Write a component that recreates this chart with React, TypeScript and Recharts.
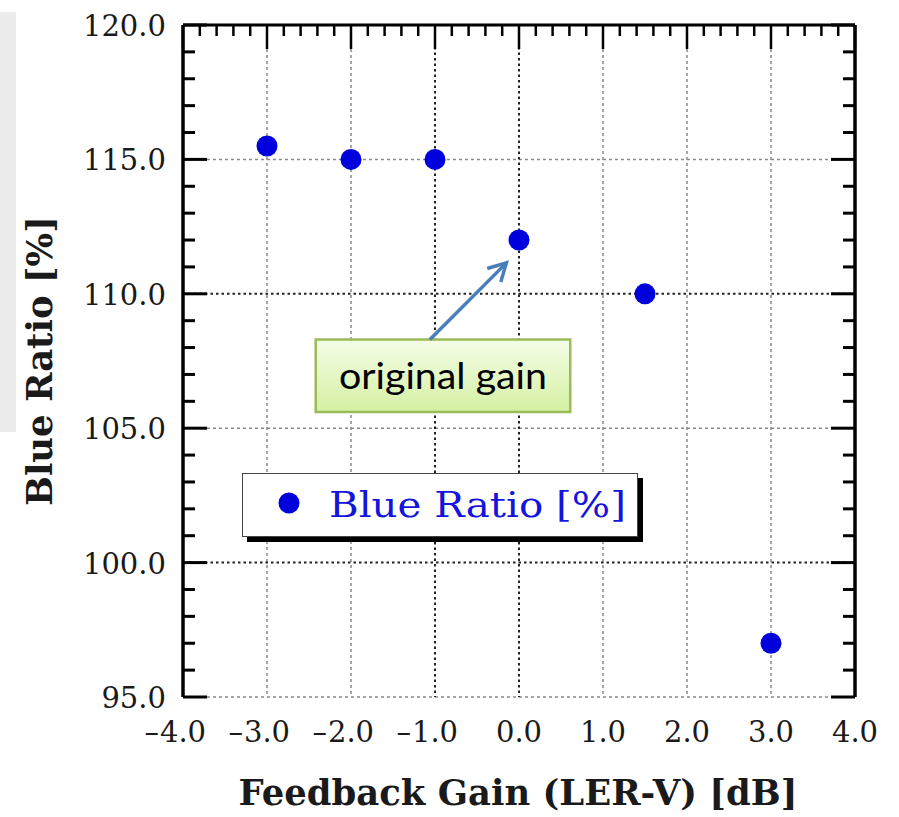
import React from 'react';
import {
  ScatterChart,
  Scatter,
  XAxis,
  YAxis,
  CartesianGrid,
  ReferenceArea,
  ReferenceLine,
  Legend,
} from 'recharts';

// measured values
const gainDb = [-3.0, -2.0, -1.0, 0.0, 1.5, 3.0];
const blueRatio = [115.5, 115.0, 115.0, 112.0, 110.0, 97.0];

// axis ticks
const xTicks = [-4, -3, -2, -1, 0, 1, 2, 3, 4];
const xMinorTicks = Array.from({ length: 41 }, (_, i) => Math.round((-4 + i * 0.2) * 10) / 10);
const yMinorTicks = Array.from({ length: 26 }, (_, i) => 95 + i);

// grid lines (some drawn darker in the original)
const lightGridX = [-3, -2, 1, 2, 3];
const darkGridX = [-1, 0];
const lightGridY = [95, 105, 115];
const darkGridY = [100, 110];

const seriesName = 'Blue Ratio [%]';
const xLabel = 'Feedback Gain (LER-V) [dB]';
const yLabel = 'Blue Ratio [%]';
const noteText = 'original gain';

// callout placement, in data units
const noteBox = { x1: -2.42, x2: 0.61, y1: 105.6, y2: 108.3 };
const noteArrow = [
  { x: -1.06, y: 108.3 },
  { x: -0.15, y: 111.15 },
];

const SERIF = '"DejaVu Serif", "Liberation Serif", serif';
const W = 899;
const H = 817;

const data = gainDb.map((g, i) => ({ gain: g, ratio: blueRatio[i] }));

const isWhole = (v: number) => Math.abs(v - Math.round(v)) < 1e-6;

function LeftTick({ x, y, payload }: any) {
  const v = payload.value as number;
  const major = v % 5 === 0;
  return (
    <g>
      <line x1={x} y1={y} x2={x + (major ? 24 : 12)} y2={y} stroke="#000" strokeWidth={3} />
      {major && (
        <text x={x - 17} y={y} dy={11} textAnchor="end" fontFamily={SERIF} fontSize={29} fill="#1a1a1a">
          {v.toFixed(1)}
        </text>
      )}
    </g>
  );
}

function RightTick({ x, y, payload }: any) {
  const v = payload.value as number;
  const major = v % 5 === 0;
  return <line x1={x} y1={y} x2={x - (major ? 24 : 12)} y2={y} stroke="#000" strokeWidth={3} />;
}

function TopTick({ x, y, payload }: any) {
  const v = payload.value as number;
  const major = isWhole(v);
  return <line x1={x} y1={y} x2={x} y2={y + (major ? 24 : 11)} stroke="#000" strokeWidth={2.5} />;
}

function BottomTick({ x, y, payload }: any) {
  const v = payload.value as number;
  return (
    <g fontFamily={SERIF} fontSize={29} fill="#1a1a1a">
      <text x={x} y={y + 45} textAnchor="middle">
        {Math.abs(v).toFixed(1)}
      </text>
      {v < 0 && (
        <text x={x - 24} y={y + 45} textAnchor="end">
          –
        </text>
      )}
    </g>
  );
}

function XLabel({ viewBox }: any) {
  const { x, y, width } = viewBox;
  return (
    <text
      x={x + width / 2 - 1}
      y={y + 108}
      textAnchor="middle"
      fontFamily={SERIF}
      fontWeight="bold"
      fontSize={35}
      fill="#1a1a1a"
      textLength={559}
      lengthAdjust="spacingAndGlyphs"
    >
      {xLabel}
    </text>
  );
}

function YLabel({ viewBox }: any) {
  const { y, height } = viewBox;
  return (
    <text
      transform={`translate(52, ${y + height / 2}) rotate(-90)`}
      textAnchor="middle"
      fontFamily={SERIF}
      fontWeight="bold"
      fontSize={35}
      fill="#1a1a1a"
      textLength={290}
      lengthAdjust="spacingAndGlyphs"
    >
      {yLabel}
    </text>
  );
}

function NoteLabel({ viewBox }: any) {
  const { x, y, width, height } = viewBox;
  return (
    <text
      x={x + width / 2}
      y={y + height / 2 + 13}
      textAnchor="middle"
      fontFamily="Lato, 'Open Sans', sans-serif"
      fontSize={36}
      fill="#000"
      textLength={208}
      lengthAdjust="spacingAndGlyphs"
    >
      {noteText}
    </text>
  );
}

function Arrow({ x1, y1, x2, y2 }: any) {
  const ang = Math.atan2(y2 - y1, x2 - x1);
  const len = 20;
  const spread = 0.5;
  const ax = x2 - len * Math.cos(ang - spread);
  const ay = y2 - len * Math.sin(ang - spread);
  const bx = x2 - len * Math.cos(ang + spread);
  const by = y2 - len * Math.sin(ang + spread);
  return (
    <g stroke="#4a7ebb" strokeWidth={3.5} fill="none" strokeLinecap="butt" strokeLinejoin="miter">
      <line x1={x1} y1={y1} x2={x2} y2={y2} />
      <polyline points={`${ax},${ay} ${x2},${y2} ${bx},${by}`} />
    </g>
  );
}

function LegendBox() {
  return (
    <div style={{ position: 'relative', width: 396, height: 64 }}>
      <div
        style={{
          position: 'absolute',
          left: 5,
          top: 5,
          width: 396,
          height: 64,
          background: '#000',
        }}
      />
      <svg
        width={396}
        height={64}
        style={{ position: 'absolute', left: 0, top: 0, background: '#fff', boxSizing: 'border-box', border: '1.5px solid #444' }}
      >
        <circle cx={46} cy={29} r={10.5} fill="#0000dd" />
        <text
          x={86}
          y={43}
          fontFamily={SERIF}
          fontSize={36}
          fill="#1414dd"
          textLength={297}
          lengthAdjust="spacingAndGlyphs"
        >
          {seriesName}
        </text>
      </svg>
    </div>
  );
}

export default function App() {
  return (
    <div style={{ position: 'absolute', left: 0, top: 0, width: W, height: H, background: '#fff' }}>
      <div style={{ position: 'absolute', left: 0, top: 12, width: 16, height: 420, background: '#ececec' }} />
      <div style={{ position: 'absolute', left: 0, top: 0 }}>
        <ScatterChart width={W} height={H} margin={{ top: 0, right: 0, bottom: 0, left: 0 }}>
          <defs>
            <linearGradient id="noteFill" x1="0" y1="0" x2="0" y2="1">
              <stop offset="0%" stopColor="#f4fde8" />
              <stop offset="100%" stopColor="#d5f0a2" />
            </linearGradient>
          </defs>
          <CartesianGrid
            horizontalValues={lightGridY}
            verticalValues={lightGridX}
            stroke="#8a8a8a"
            strokeDasharray="3 3"
            strokeWidth={1.5}
            fill="none"
          />
          <CartesianGrid
            horizontalValues={darkGridY}
            verticalValues={darkGridX}
            stroke="#222"
            strokeDasharray="2.5 3"
            strokeWidth={2}
            fill="none"
          />
          <XAxis
            xAxisId={0}
            type="number"
            dataKey="gain"
            orientation="bottom"
            domain={[-4, 4]}
            allowDataOverflow
            ticks={xTicks}
            interval={0}
            height={120}
            axisLine={false}
            tickLine={false}
            tickSize={0}
            tickMargin={0}
            tick={BottomTick}
            label={{ value: xLabel, content: XLabel }}
          />
          <XAxis
            xAxisId="top"
            type="number"
            dataKey="gain"
            orientation="top"
            domain={[-4, 4]}
            allowDataOverflow
            ticks={xMinorTicks}
            interval={0}
            height={25}
            axisLine={{ stroke: '#000', strokeWidth: 3 }}
            tickLine={false}
            tickSize={0}
            tickMargin={0}
            tick={TopTick}
          />
          <YAxis
            yAxisId={0}
            type="number"
            dataKey="ratio"
            domain={[95, 120]}
            allowDataOverflow
            ticks={yMinorTicks}
            interval={0}
            width={183}
            axisLine={{ stroke: '#000', strokeWidth: 3.5 }}
            tickLine={false}
            tickSize={0}
            tickMargin={0}
            tick={LeftTick}
            label={{ value: yLabel, content: YLabel }}
          />
          <YAxis
            yAxisId="right"
            type="number"
            dataKey="ratio"
            orientation="right"
            domain={[95, 120]}
            allowDataOverflow
            ticks={yMinorTicks}
            interval={0}
            width={44}
            axisLine={{ stroke: '#000', strokeWidth: 3.5 }}
            tickLine={false}
            tickSize={0}
            tickMargin={0}
            tick={RightTick}
          />
          <ReferenceArea
            x1={noteBox.x1}
            x2={noteBox.x2}
            y1={noteBox.y1}
            y2={noteBox.y2}
            fill="url(#noteFill)"
            fillOpacity={1}
            stroke="#9bbb59"
            strokeWidth={2.5}
            label={{ value: noteText, content: NoteLabel }}
          />
          <ReferenceLine segment={noteArrow} shape={Arrow} />
          <Scatter
            name={seriesName}
            data={data}
            isAnimationActive={false}
            shape={(p: any) => <circle cx={p.cx} cy={p.cy} r={10.5} fill="#0000dd" />}
          />
          <Legend
            layout="vertical"
            align="center"
            verticalAlign="middle"
            content={LegendBox}
            wrapperStyle={{ left: 242, top: 473, width: 401, height: 69 }}
          />
        </ScatterChart>
      </div>
    </div>
  );
}
